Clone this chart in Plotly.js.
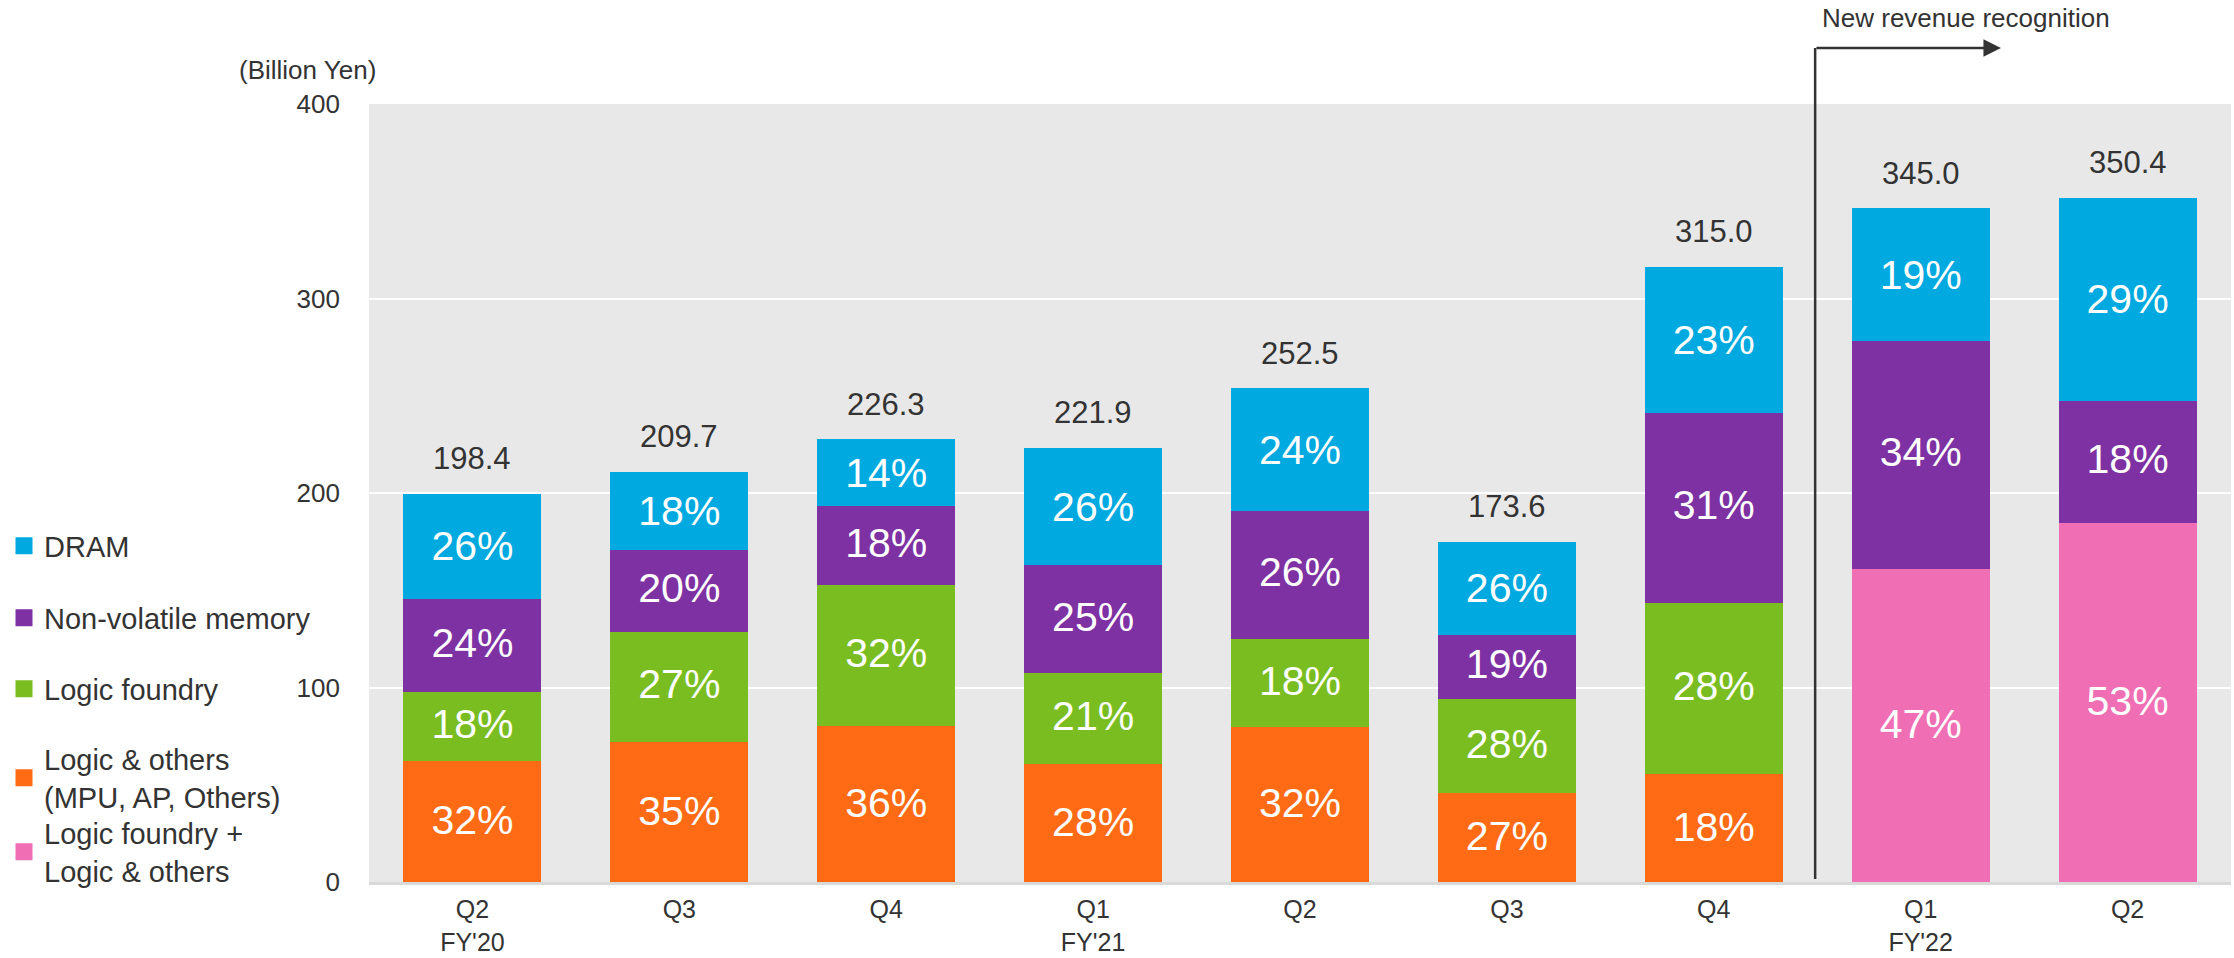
<!DOCTYPE html>
<html>
<head>
<meta charset="utf-8">
<script src="https://cdn.plot.ly/plotly-3.0.1.min.js"></script>
<style>
  html, body { margin: 0; padding: 0; background: #fff; }
  #chart { width: 2234px; height: 958px; }
</style>
</head>
<body>
<div id="chart"></div>
<script>
// quarters, FY'20 Q2 .. FY'22 Q2
const quarters = ["Q2<br>FY'20", "Q3", "Q4", "Q1<br>FY'21", "Q2", "Q3", "Q4", "Q1<br>FY'22", "Q2"];
const totals = [198.4, 209.7, 226.3, 221.9, 252.5, 173.6, 315.0, 345.0, 350.4];

// segment values (billion yen)
const dram = [51.6, 37.8, 31.7, 57.7, 60.5, 45.1, 72.4, 65.5, 101.6];
const nvm = [47.6, 41.9, 40.7, 55.5, 65.7, 33.0, 97.7, 117.3, 63.1];
const logicFoundry = [35.7, 56.6, 72.4, 46.6, 45.5, 48.6, 88.2, null, null];
const logicOthers = [63.5, 73.4, 81.5, 62.1, 80.8, 46.9, 56.7, null, null];
const logicCombined = [null, null, null, null, null, null, null, 162.2, 185.7];

// shares printed inside the bars
const dramPct = [26, 18, 14, 26, 24, 26, 23, 19, 29];
const nvmPct = [24, 20, 18, 25, 26, 19, 31, 34, 18];
const logicFoundryPct = [18, 27, 32, 21, 18, 28, 28, null, null];
const logicOthersPct = [32, 35, 36, 28, 32, 27, 18, null, null];
const logicCombinedPct = [null, null, null, null, null, null, null, 47, 53];

const FONT = "Liberation Sans, Arial, sans-serif";
const INK = "#333333";
const xs = quarters.map((_, i) => i);

function segment(name, y, pct, color, legend) {
  return {
    type: "bar",
    name,
    x: xs,
    y,
    text: pct.map((p) => (p == null ? "" : p + "%")),
    textposition: "inside",
    insidetextanchor: "middle",
    constraintext: "none",
    textfont: { family: FONT, size: 41, color: "#ffffff" },
    // same-colour outline, mostly so the legend swatch comes out larger
    marker: { color, line: { color, width: 5 } },
    legend,
    hoverinfo: "name+y",
  };
}

const traces = [
  segment("Logic foundry +<br>Logic & others", logicCombined, logicCombinedPct, "#ef6eb4", "legend5"),
  segment("Logic & others<br>(MPU, AP, Others)", logicOthers, logicOthersPct, "#ff6b15", "legend4"),
  segment("Logic foundry", logicFoundry, logicFoundryPct, "#79bd21", "legend3"),
  segment("Non-volatile memory", nvm, nvmPct, "#7e31a3", "legend2"),
  segment("DRAM", dram, dramPct, "#00a9df", "legend"),
];

// total labels above each bar
const totalNotes = totals.map((t, i) => ({
  x: i,
  y: t,
  xref: "x",
  yref: "y",
  text: t.toFixed(1),
  showarrow: false,
  yanchor: "bottom",
  yshift: 18,
  font: { family: FONT, size: 31, color: INK },
}));

// "new revenue recognition" marker between FY'21 Q4 and FY'22 Q1
const splitX = 6.49;

const PLOT_L = 369, PLOT_W = 1862, PLOT_B = 882, PLOT_H = 778;
const px = (v) => (v - PLOT_L) / PLOT_W;
const py = (v) => (PLOT_B - v) / PLOT_H;

const legendBase = (y) => ({
  x: px(4),
  xanchor: "left",
  y: py(y),
  yanchor: "middle",
  bgcolor: "rgba(0,0,0,0)",
  font: { family: FONT, size: 29, color: INK },
});

const layout = {
  width: 2234,
  height: 958,
  margin: { l: PLOT_L, r: 2234 - PLOT_L - PLOT_W, t: PLOT_B - PLOT_H, b: 958 - PLOT_B, autoexpand: false },
  paper_bgcolor: "#ffffff",
  plot_bgcolor: "#e8e8e8",
  font: { family: FONT, color: INK },
  barmode: "stack",
  bargap: 0.357,
  showlegend: true,
  legend: legendBase(546),
  legend2: legendBase(618),
  legend3: legendBase(689),
  legend4: legendBase(778),
  legend5: legendBase(852),
  xaxis: {
    range: [-0.5, 8.5],
    tickmode: "array",
    tickvals: xs,
    ticktext: quarters,
    ticks: "",
    ticklabelstandoff: 3,
    tickfont: { family: FONT, size: 25, color: INK },
    showgrid: false,
    zeroline: false,
    showline: true,
    linecolor: "#d9d9d9",
    linewidth: 3,
    fixedrange: true,
  },
  yaxis: {
    range: [0, 400],
    dtick: 100,
    ticks: "",
    ticklabelstandoff: 28,
    tickfont: { family: FONT, size: 26, color: INK },
    gridcolor: "#ffffff",
    gridwidth: 2,
    zeroline: false,
    fixedrange: true,
  },
  shapes: [
    {
      type: "line",
      xref: "x",
      yref: "paper",
      x0: splitX,
      x1: splitX,
      y0: py(879),
      y1: py(48),
      line: { color: INK, width: 2.5 },
    },
  ],
  annotations: [
    ...totalNotes,
    {
      xref: "paper",
      yref: "paper",
      x: px(307),
      y: py(70),
      text: "(Billion Yen)",
      showarrow: false,
      xanchor: "center",
      yanchor: "middle",
      font: { family: FONT, size: 26, color: INK },
    },
    {
      xref: "x",
      yref: "paper",
      x: 7.388,
      y: py(48),
      text: "",
      showarrow: true,
      arrowhead: 2,
      arrowsize: 1.4,
      arrowwidth: 2.5,
      arrowcolor: INK,
      axref: "pixel",
      ayref: "pixel",
      ax: -186,
      ay: 0,
    },
    {
      xref: "x",
      yref: "paper",
      x: 6.513,
      y: py(18),
      text: "New revenue recognition",
      showarrow: false,
      xanchor: "left",
      yanchor: "middle",
      font: { family: FONT, size: 26, color: INK },
    },
  ],
};

Plotly.newPlot("chart", traces, layout, { displayModeBar: false, staticPlot: true });
</script>
</body>
</html>
